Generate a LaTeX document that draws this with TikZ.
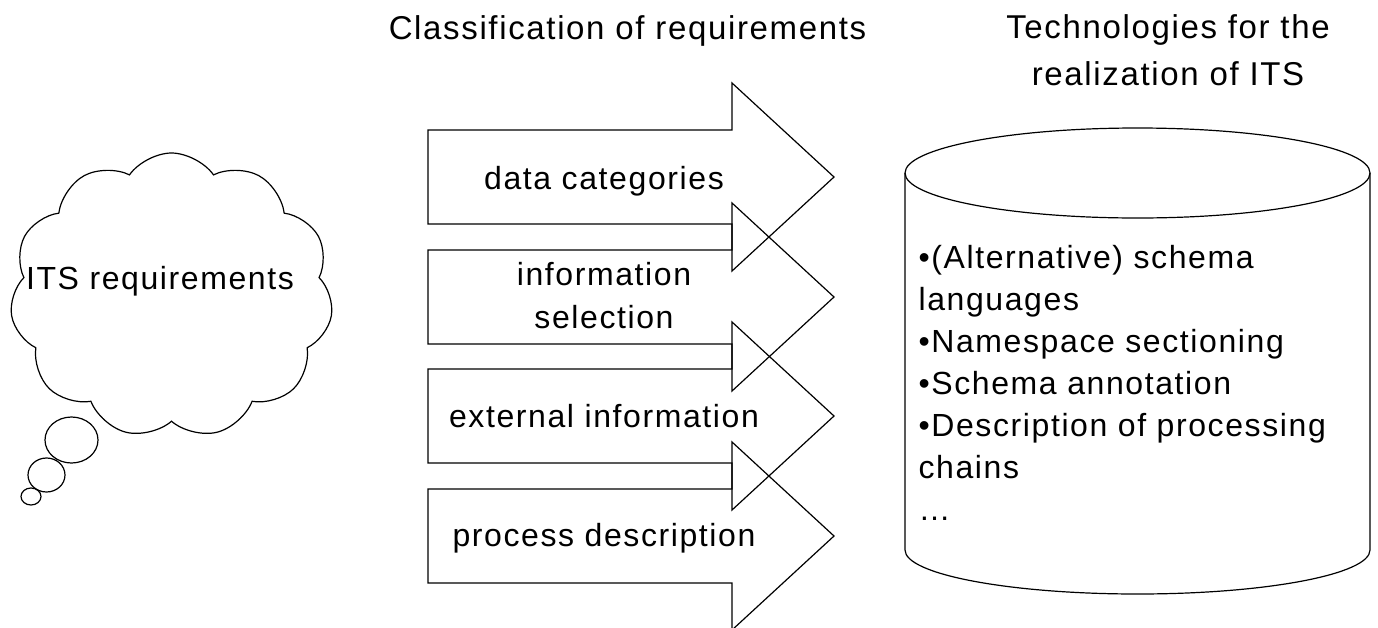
\documentclass[tikz,border=0pt]{standalone}
\usepackage{fontspec}
\setmainfont{Liberation Sans}[LetterSpace=5.0]
\usetikzlibrary{shapes.symbols}
\begin{document}
\begin{tikzpicture}[x=1pt,y=-1pt,line width=1.2pt,
  txt/.style={inner sep=0pt,font=\fontsize{32}{42}\selectfont},
  ttl/.style={inner sep=0pt,font=\fontsize{33}{47}\selectfont,align=center},
  blockarrow/.style={draw=black,line join=miter},
  thought/.style={draw=black},
  cloudshape/.style={cloud,draw=black,cloud puffs=11,cloud puff arc=110,aspect=1.13,inner sep=0pt,minimum width=323pt,minimum height=285pt},
  tank/.style={draw=black}]
\useasboundingbox[fill=white] (0,0) rectangle (1378,627);
% titles
\node[ttl,anchor=base] (t1) at (627.5,39) {Classification of requirements};
\node[ttl,anchor=north] (t2) at (1168,14.4) {Technologies for the\\realization of ITS};
% cloud
\node[cloudshape] (cloud) at (171.5,295.5) {};
\node[txt,anchor=base] (itsreq) at (160,289) {ITS requirements};
\draw[thought] (71.5,440) ellipse [x radius=26.5,y radius=23];
\draw[thought] (46.5,475) ellipse [x radius=18.5,y radius=17];
\draw[thought] (31,496.5) ellipse [x radius=10,y radius=8.5];
% block arrows
\foreach \t in {177,297,416,536}{
  \draw[blockarrow] (428,\t-47) -- (732,\t-47) -- (732,\t-94) -- (834,\t)
     -- (732,\t+94) -- (732,\t+47) -- (428,\t+47) -- cycle;
}
\node[txt,anchor=base] (a1) at (604,189) {data categories};
\node[txt,anchor=north,align=center,font=\fontsize{32}{43}\selectfont] (a2) at (604,261.7) {information\\selection};
\node[txt,anchor=base] (a3) at (604,427) {external information};
\node[txt,anchor=base] (a4) at (604,546) {process description};
% cylinder
\draw[tank] (905,173) -- (905,550) arc[start angle=180,end angle=0,x radius=232.5,y radius=44] -- (1370,173);
\draw[tank] (1137.5,173) ellipse [x radius=232.5,y radius=45];
\node[txt,anchor=north west,align=left] (techlist) at (918,245) {•(Alternative) schema\\languages\\•Namespace sectioning\\•Schema annotation\\•Description of processing\\chains\\…};
\end{tikzpicture}
\end{document}
